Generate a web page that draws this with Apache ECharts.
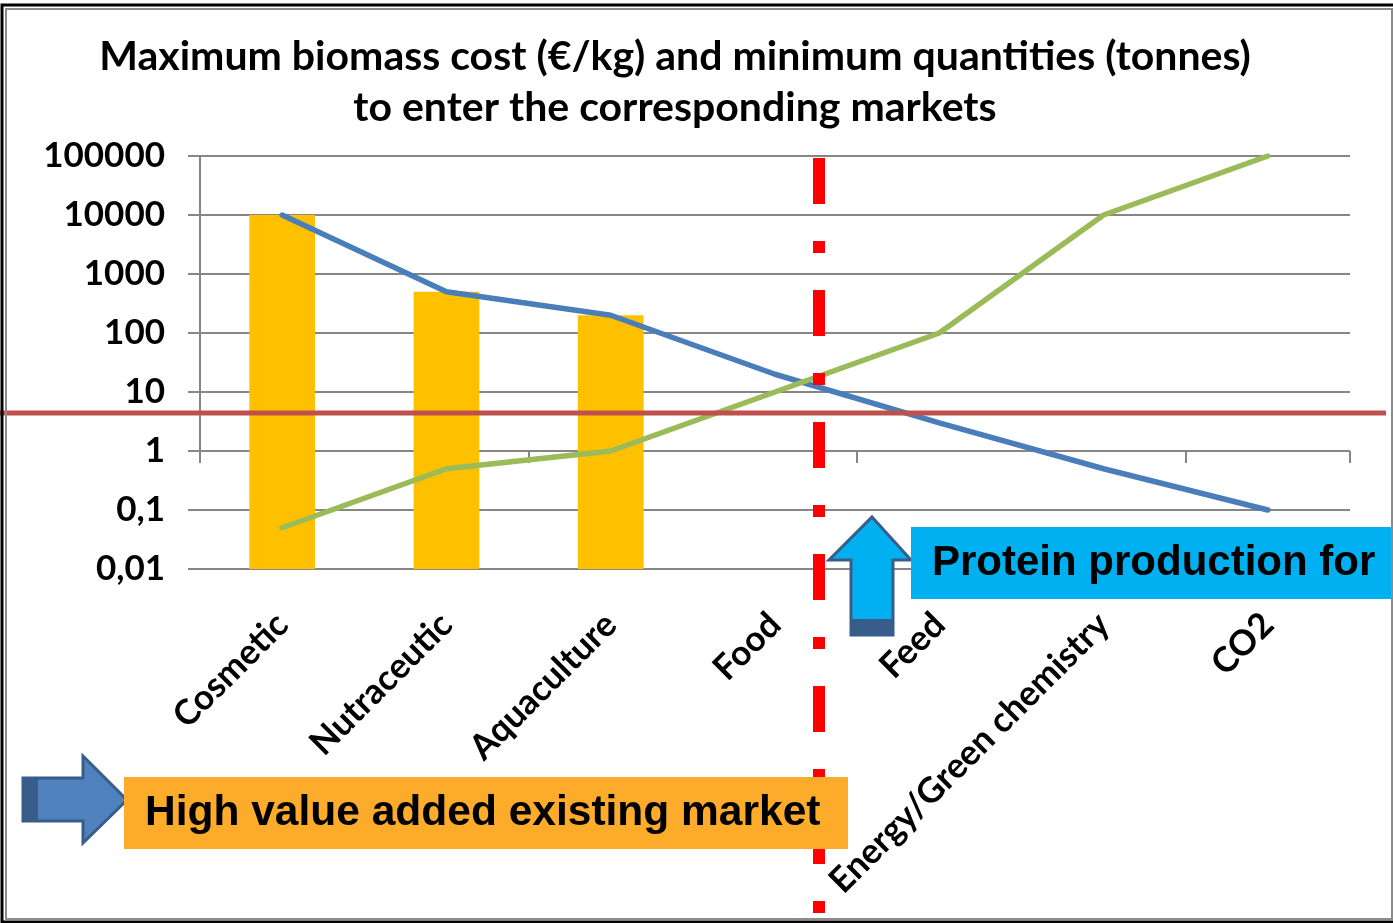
<!DOCTYPE html>
<html>
<head>
<meta charset="utf-8">
<script src="https://cdn.jsdelivr.net/npm/echarts@6/dist/echarts.min.js"></script>
<style>
  html, body { margin: 0; padding: 0; background: #fff; }
  #chart { width: 1393px; height: 923px; }
</style>
</head>
<body>
<div id="chart"></div>
<script>
// markets on the category axis
var categories = ['Cosmetic', 'Nutraceutic', 'Aquaculture', 'Food', 'Feed', 'Energy/Green chemistry', 'CO2'];
// yellow bars (existing high value markets)
var barValues = [10000, 500, 200, null, null, null, null];
// blue line: maximum biomass cost (€/kg)
var costValues = [10000, 500, 200, 20, 3, 0.5, 0.1];
// green line: minimum quantities (tonnes)
var quantityValues = [0.05, 0.5, 1, 10, 100, 10000, 100000];
// red horizontal threshold
var thresholdValue = 4.4;
var yMin = 0.01, yMax = 100000;

var FONT = 'Lato';
var gridLeft = 200, gridTop = 156, gridRight = 43, gridBottom = 354;
var gridHeight = 923 - gridTop - gridBottom;
var decades = Math.log10(yMax) - Math.log10(yMin);

var myChart = echarts.init(document.getElementById('chart'), null, { renderer: 'canvas' });

var barData = [];
for (var i = 0; i < barValues.length; i++) {
    if (barValues[i] != null) barData.push([i, barValues[i]]);
}

myChart.setOption({
    animation: false,
    backgroundColor: '#fff',
    title: {
        text: 'Maximum biomass cost (€/kg) and minimum quantities (tonnes)\nto enter the corresponding markets',
        left: 670,
        top: 26,
        textAlign: 'center',
        textStyle: { fontFamily: FONT, fontWeight: 'bold', fontSize: 41, lineHeight: 51, color: '#000' }
    },
    grid: { left: gridLeft, top: gridTop, right: gridRight, bottom: gridBottom, containLabel: false },
    xAxis: [{
        type: 'category',
        data: categories,
        boundaryGap: true,
        axisLine: { show: false },
        axisTick: { show: false },
        axisLabel: {
            rotate: 45, margin: 50, interval: 0,
            fontFamily: FONT, fontWeight: 'bold', fontSize: 35, color: '#000'
        }
    }, {
        // tick marks where the category axis crosses at 1
        type: 'category',
        data: categories,
        position: 'bottom',
        offset: -gridHeight * (Math.log10(1) - Math.log10(yMin)) / decades,
        boundaryGap: true,
        axisLine: { show: false },
        axisLabel: { show: false },
        axisTick: { show: true, length: 12, lineStyle: { color: '#868686', width: 2 } }
    }],
    yAxis: {
        type: 'log',
        logBase: 10,
        min: yMin,
        max: yMax,
        axisLine: { show: false },
        axisTick: { show: true, length: 12, lineStyle: { color: '#868686', width: 2 } },
        splitLine: { show: true, lineStyle: { color: '#868686', width: 2 } },
        axisLabel: {
            margin: 35,
            fontFamily: FONT, fontWeight: 'bold', fontSize: 35, color: '#000',
            formatter: function (v) { return String(v).replace('.', ','); }
        }
    },
    series: [{
        type: 'custom',
        name: 'Existing market',
        data: barData,
        encode: { x: 0, y: 1 },
        z: 2,
        renderItem: function (params, api) {
            var top = api.coord([api.value(0), api.value(1)]);
            var base = api.coord([api.value(0), yMin]);
            var w = api.size([1, 1])[0] * 0.4;
            return {
                type: 'rect',
                shape: { x: top[0] - w / 2, y: top[1], width: w, height: base[1] - top[1] },
                style: { fill: '#FFC000' }
            };
        }
    }, {
        type: 'line',
        name: 'Maximum biomass cost',
        data: costValues,
        symbol: 'none',
        z: 3,
        lineStyle: { color: '#4A7EBB', width: 5.5, cap: 'round' }
    }, {
        type: 'line',
        name: 'Minimum quantities',
        data: quantityValues,
        symbol: 'none',
        z: 3,
        lineStyle: { color: '#9BBB59', width: 5.5, cap: 'round' }
    }]
});

// annotations drawn on top of the chart
var yThreshold = myChart.convertToPixel({ yAxisIndex: 0 }, thresholdValue);
var yOne = myChart.convertToPixel({ yAxisIndex: 0 }, 1);
var yTopPx = myChart.convertToPixel({ yAxisIndex: 0 }, yMax);

myChart.setOption({
    graphic: [
        // outer frame
        { type: 'rect', z: 50, shape: { x: 2, y: 5, width: 1395, height: 917 }, style: { fill: null, stroke: '#000', lineWidth: 3 } },
        { type: 'rect', z: 50, shape: { x: 6, y: 9, width: 1386, height: 910 }, style: { fill: null, stroke: '#8C8C8C', lineWidth: 2 } },
        // vertical axis line down to the crossing
        { type: 'line', z: 5, shape: { x1: gridLeft, y1: yTopPx, x2: gridLeft, y2: yOne + 12 }, style: { stroke: '#868686', lineWidth: 2 } },
        // red threshold line
        { type: 'line', z: 20, shape: { x1: 0, y1: yThreshold, x2: 1386, y2: yThreshold }, style: { stroke: '#C0504D', lineWidth: 5 } },
        // red dash-dot separator
        { type: 'line', z: 21, shape: { x1: 819, y1: 158, x2: 819, y2: 915 }, style: { stroke: '#FF0000', lineWidth: 12, lineDash: [46, 37, 12, 37] } },
        // up arrow
        { type: 'polygon', z: 30, shape: { points: [[872, 517], [911, 560], [893, 560], [893, 635], [851, 635], [851, 560], [829, 560]] },
          style: { fill: '#00B0F0', stroke: '#385D8A', lineWidth: 3 } },
        { type: 'rect', z: 31, shape: { x: 851, y: 619, width: 42, height: 16 }, style: { fill: '#385D8A' } },
        { type: 'rect', z: 32, shape: { x: 911, y: 527, width: 482, height: 72 }, style: { fill: '#00B0F0' } },
        { type: 'text', z: 33, style: { x: 932, y: 563, text: 'Protein production for', fill: '#000',
          font: 'bold 42px "Liberation Sans", Arial, sans-serif', textVerticalAlign: 'middle' } },
        // right arrow
        { type: 'polygon', z: 30, shape: { points: [[23, 778], [83, 778], [83, 756], [127, 800], [83, 843], [83, 821], [23, 821]] },
          style: { fill: '#4F81BD', stroke: '#385D8A', lineWidth: 3 } },
        { type: 'rect', z: 31, shape: { x: 23, y: 778, width: 15, height: 43 }, style: { fill: '#385D8A' } },
        { type: 'rect', z: 32, shape: { x: 124, y: 777, width: 724, height: 72 }, style: { fill: '#FCAB2B' } },
        { type: 'text', z: 33, style: { x: 145, y: 813, text: 'High value added existing market', fill: '#000',
          font: 'bold 42.5px "Liberation Sans", Arial, sans-serif', textVerticalAlign: 'middle' } }
    ]
});
</script>
</body>
</html>
